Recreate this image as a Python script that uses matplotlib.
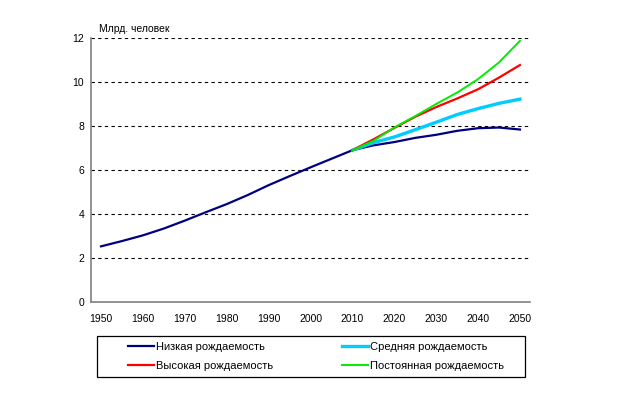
import matplotlib
matplotlib.use('Agg')
import matplotlib.pyplot as plt
from matplotlib.patches import Rectangle

plt.rcParams['font.family'] = ['Liberation Sans', 'DejaVu Sans']

# data, billions of people
hist_years = [1950, 1955, 1960, 1965, 1970, 1975, 1980, 1985, 1990, 1995, 2000, 2005, 2010]
hist_pop = [2.53, 2.77, 3.03, 3.34, 3.70, 4.08, 4.45, 4.86, 5.31, 5.72, 6.12, 6.51, 6.90]

proj_years = [2010, 2015, 2020, 2025, 2030, 2035, 2040, 2045, 2050]
low = [6.90, 7.12, 7.27, 7.46, 7.60, 7.78, 7.90, 7.93, 7.84]
medium = [6.90, 7.24, 7.50, 7.83, 8.17, 8.52, 8.79, 9.03, 9.22]
high = [6.90, 7.39, 7.91, 8.42, 8.86, 9.25, 9.67, 10.20, 10.77]
constant = [6.90, 7.32, 7.93, 8.45, 9.00, 9.52, 10.13, 10.89, 11.87]

labels = ['Низкая рождаемость', 'Средняя рождаемость',
          'Высокая рождаемость', 'Постоянная рождаемость']
colors = ['#000080', '#00ccff', '#ff0000', '#00ee00']

fig = plt.figure(figsize=(6.4, 3.94), dpi=100)
ax = fig.add_axes([91/640, 1-302/394, (530-91)/640, (302-38)/394])

ax.plot(hist_years, hist_pop, color=colors[0], lw=1.6)
l_low, = ax.plot(proj_years, low, color=colors[0], lw=1.6)
l_med, = ax.plot(proj_years, medium, color=colors[1], lw=2.4)
l_high, = ax.plot(proj_years, high, color=colors[2], lw=1.6)
l_const, = ax.plot(proj_years, constant, color=colors[3], lw=1.4)

ax.set_xlim(1947.6, 2052.4)
ax.set_ylim(0, 12)
ax.set_xticks(range(1950, 2051, 10))
ax.set_yticks(range(0, 13, 2))
for y in range(2, 13, 2):
    ax.axhline(y, color='black', lw=0.8, ls=(0, (3, 3)), zorder=0)

for s in ['top', 'right']:
    ax.spines[s].set_visible(False)
for s in ['left', 'bottom']:
    ax.spines[s].set_color('#808080')
    ax.spines[s].set_linewidth(1.2)
ax.tick_params(axis='both', length=0, labelsize=7.5)
ax.tick_params(axis='x', pad=9)
ax.tick_params(axis='y', pad=5)

fig.text(99/640, 1-29/394, 'Млрд. человек', fontsize=7.5, va='center', ha='left')

# legend box
fig.patches.append(Rectangle((97/640, 1-377/394), 428/640, 41/394,
                             transform=fig.transFigure, fill=False,
                             edgecolor='black', lw=0.9))
leg = fig.legend([l_low, l_high, l_med, l_const],
                 [labels[0], labels[2], labels[1], labels[3]],
                 ncol=2, loc='center', bbox_to_anchor=(316/640, 1-356.5/394),
                 frameon=False, fontsize=8, handlelength=2.3,
                 handletextpad=0.2, columnspacing=6.2, labelspacing=0.75,
                 borderpad=0)

fig.savefig('out.png', dpi=100)
